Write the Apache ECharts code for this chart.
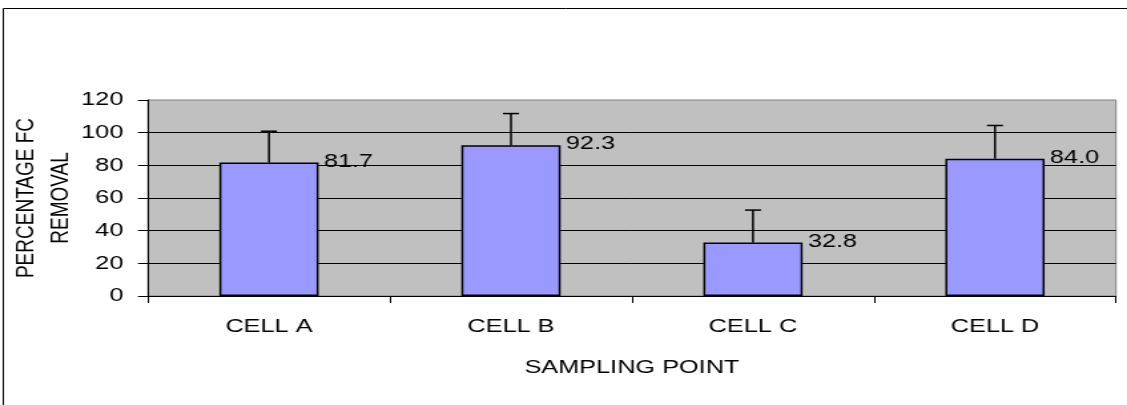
<!DOCTYPE html>
<html>
<head>
<meta charset="utf-8">
<script src="https://cdn.jsdelivr.net/npm/echarts@6/dist/echarts.min.js"></script>
<style>
  html, body { margin: 0; padding: 0; background: #fff; overflow: hidden; }
  /* source picture is stretched sideways, so stretch the canvas the same way */
  #chart { width: 847px; height: 405px; transform: scaleX(1.3306); transform-origin: 0 0; }
</style>
</head>
<body>
<div id="chart"></div>
<script>
const categories = ['CELL A', 'CELL B', 'CELL C', 'CELL D'];
const removal = [81.7, 92.3, 32.8, 84.0];
const errors = [19.2, 19.4, 19.8, 20.4];
const yMin = 0;
const yMax = 120;
const yStep = 20;

const FONT = '"Liberation Sans", Arial, sans-serif';
const FS = 19;

const chart = echarts.init(document.getElementById('chart'));

// 误差线
function renderErr(params, api) {
  const base = api.coord([api.value(0), api.value(1)]);
  const top = api.coord([api.value(0), api.value(1) + api.value(2)]);
  const hw = 6;
  const style = { stroke: '#000', lineWidth: 1.5 };
  return {
    type: 'group',
    children: [
      { type: 'line', shape: { x1: base[0], y1: base[1], x2: top[0], y2: top[1] }, style },
      { type: 'line', shape: { x1: top[0] - hw, y1: top[1], x2: top[0] + hw, y2: top[1] }, style }
    ]
  };
}

chart.setOption({
  animation: false,
  backgroundColor: '#fff',
  textStyle: { fontFamily: FONT, color: '#000' },
  graphic: [{
    type: 'rect',
    shape: { x: 2.5, y: 8.5, width: 2000, height: 1000 },
    style: { fill: 'none', stroke: '#000', lineWidth: 1 },
    silent: true
  }],
  grid: {
    left: 111.2, right: 8.3, top: 100, bottom: 109,
    outerBoundsMode: 'none',
    show: true, backgroundColor: '#C0C0C0', borderColor: '#808080', borderWidth: 1
  },
  xAxis: {
    type: 'category',
    data: categories,
    name: 'SAMPLING POINT',
    nameLocation: 'middle',
    nameGap: 62,
    nameMoveOverlap: false,
    nameTextStyle: { fontSize: FS, fontFamily: FONT, color: '#000' },
    axisLine: { lineStyle: { color: '#000', width: 1 } },
    axisTick: { show: true, length: 7, lineStyle: { color: '#000' } },
    axisLabel: { fontSize: FS, fontFamily: FONT, color: '#000', margin: 21 },
    splitLine: { show: false }
  },
  yAxis: {
    type: 'value',
    min: yMin, max: yMax, interval: yStep,
    name: 'PERCENTAGE FC\nREMOVAL',
    nameLocation: 'middle',
    nameRotate: 90,
    nameGap: 52,
    nameMoveOverlap: false,
    nameTextStyle: { fontSize: FS, fontFamily: FONT, color: '#000', lineHeight: 26.5 },
    axisLine: { show: true, lineStyle: { color: '#000', width: 1 } },
    axisTick: { show: true, length: 7.5, lineStyle: { color: '#000' } },
    axisLabel: { fontSize: FS, fontFamily: FONT, color: '#000', margin: 18.5 },
    splitLine: { show: true, showMinLine: false, showMaxLine: false, lineStyle: { color: '#000', width: 1 } }
  },
  series: [
    {
      type: 'bar',
      data: removal,
      barCategoryGap: '59%',
      itemStyle: { color: '#9999FF', borderColor: '#000', borderWidth: 1.5 },
      label: {
        show: true,
        position: ['100%', 0],
        offset: [4, -1],
        align: 'left',
        verticalAlign: 'middle',
        fontSize: FS,
        fontFamily: FONT,
        color: '#000',
        formatter: p => p.value.toFixed(1)
      }
    },
    {
      type: 'custom',
      renderItem: renderErr,
      data: categories.map((c, i) => [i, removal[i], errors[i]]),
      encode: { x: 0, y: 1 },
      z: 5
    }
  ]
});
</script>
</body>
</html>
